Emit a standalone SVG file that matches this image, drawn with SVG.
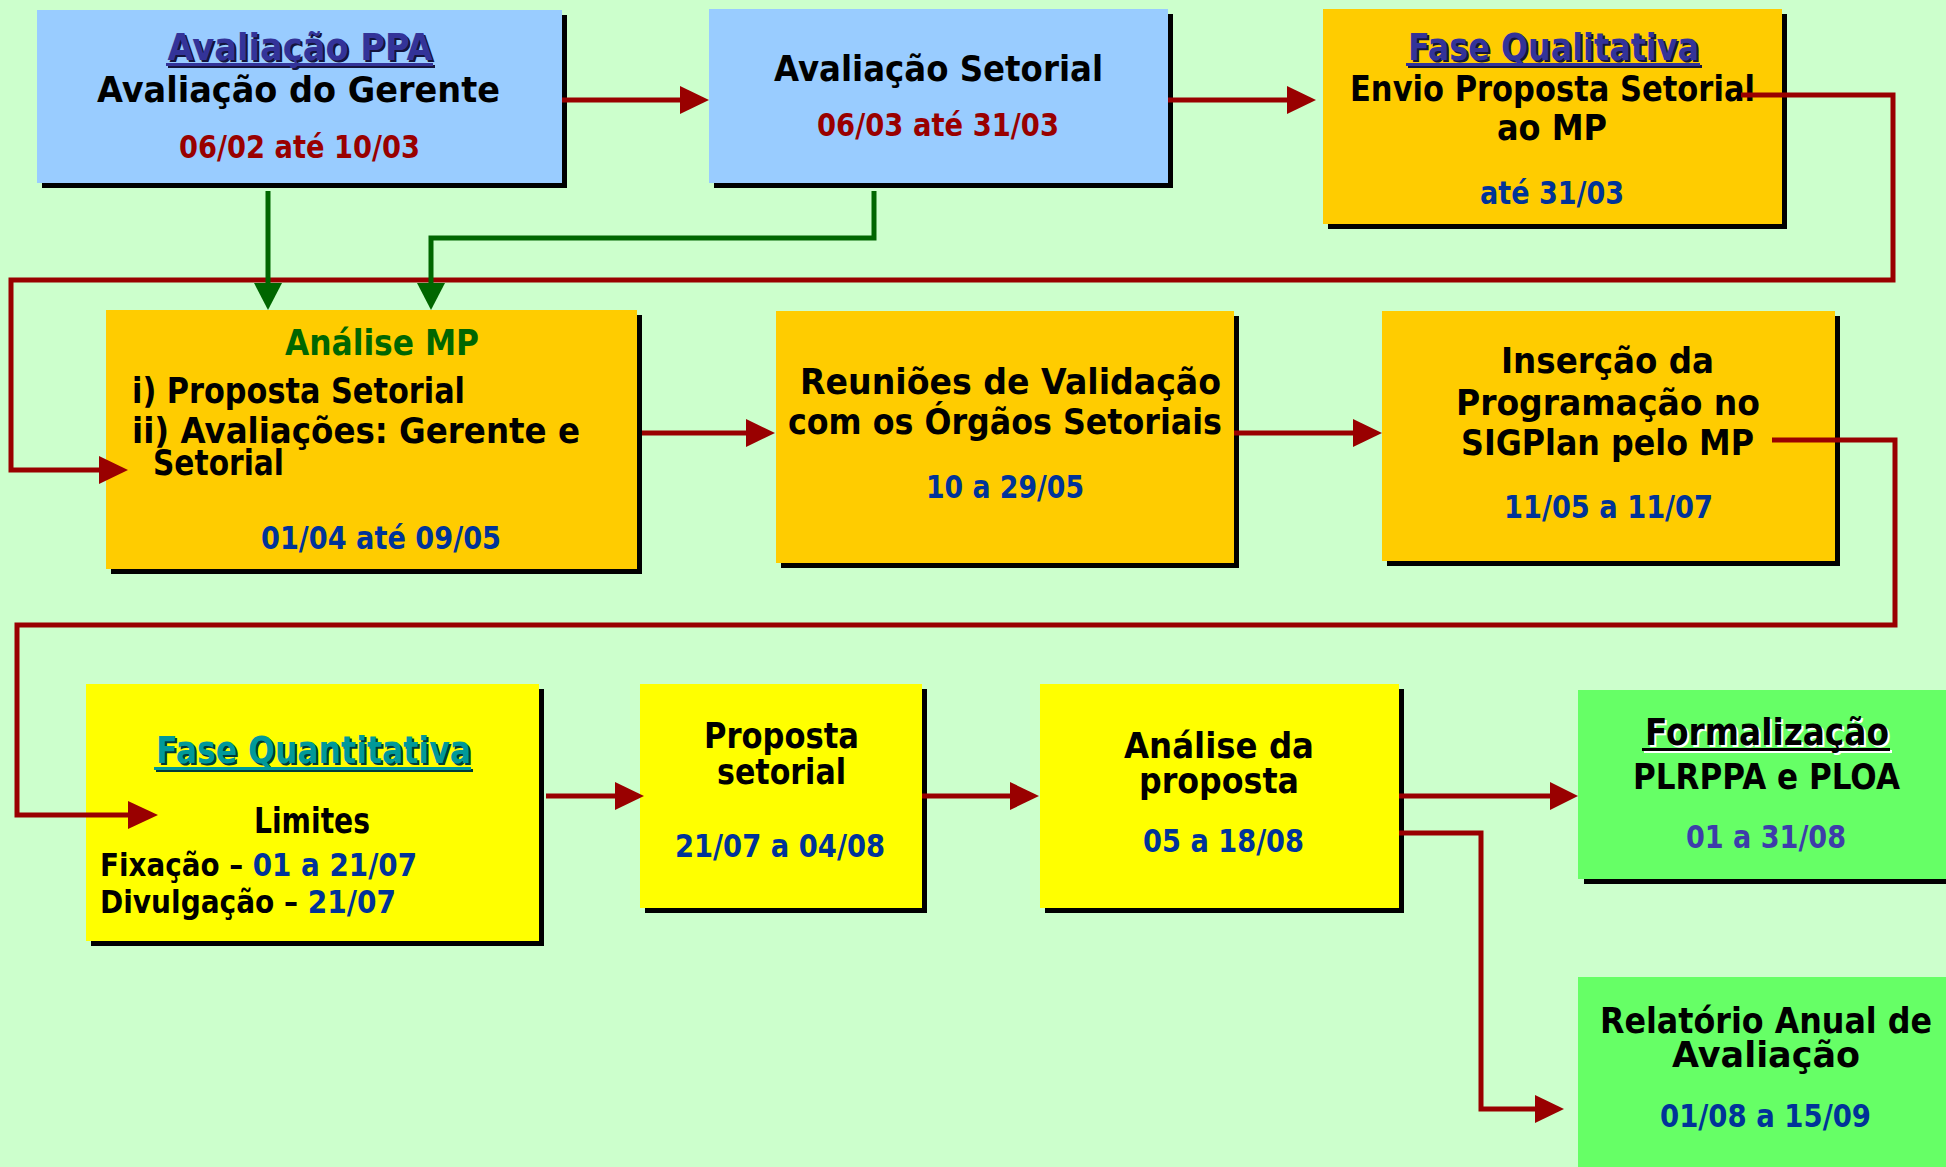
<svg xmlns="http://www.w3.org/2000/svg" width="1946" height="1167" viewBox="0 0 1946 1167">
<defs>
<style>
.t{font-family:"DejaVu Sans","Liberation Sans",sans-serif;font-weight:bold;text-anchor:middle}
.s{text-anchor:start}
.body{font-size:35.5px;fill:#000}
.hd{font-size:38px}
.dt{font-size:31.5px}
.red{fill:#990000}
.blue{fill:#003399}
.navy{fill:#333399}
.nsh{fill:#14143d}
.teal{fill:#009999}
.tsh{fill:#003a3a}
.grn{fill:#006600}
.shadow{fill:#000}
.blueBox{fill:#99CCFF}
.orBox{fill:#FFCC00}
.yeBox{fill:#FFFF00}
.gnBox{fill:#66FF66}
.lnR{fill:none;stroke:#990000;stroke-width:5}
.lnG{fill:none;stroke:#006600;stroke-width:5}
.hR{fill:#990000}
.hG{fill:#006600}
</style>
</defs>
<rect width="1946" height="1167" fill="#CCFFCC"/>

<g id="avaliacao-ppa">
<rect class="shadow" x="42" y="15" width="525" height="173"/>
<rect class="blueBox" x="37" y="10" width="525" height="173"/>
<text class="t hd nsh" x="302" y="62" textLength="265" lengthAdjust="spacingAndGlyphs">Avaliação PPA</text>
<rect class="nsh" x="168" y="65" width="267" height="3"/>
<text class="t hd navy" x="300" y="60" textLength="265" lengthAdjust="spacingAndGlyphs">Avaliação PPA</text>
<rect class="navy" x="166" y="63" width="267" height="3"/>
<text class="t body" x="298.5" y="102" textLength="403" lengthAdjust="spacingAndGlyphs">Avaliação do Gerente</text>
<text class="t dt red" x="299.5" y="158" textLength="241" lengthAdjust="spacingAndGlyphs">06/02 até 10/03</text>
</g>

<g id="avaliacao-setorial">
<rect class="shadow" x="714" y="14" width="459" height="174"/>
<rect class="blueBox" x="709" y="9" width="459" height="174"/>
<text class="t body" x="938.5" y="81" textLength="329" lengthAdjust="spacingAndGlyphs">Avaliação Setorial</text>
<text class="t dt red" x="938" y="136" textLength="242" lengthAdjust="spacingAndGlyphs">06/03 até 31/03</text>
</g>

<g id="fase-qualitativa">
<rect class="shadow" x="1328" y="14" width="459" height="215"/>
<rect class="orBox" x="1323" y="9" width="459" height="215"/>
<text class="t hd nsh" x="1555.5" y="62" textLength="291" lengthAdjust="spacingAndGlyphs">Fase Qualitativa</text>
<rect class="nsh" x="1408" y="65" width="294" height="3"/>
<text class="t hd navy" x="1553.5" y="60" textLength="291" lengthAdjust="spacingAndGlyphs">Fase Qualitativa</text>
<rect class="navy" x="1406" y="63" width="294" height="3"/>
<text class="t body" x="1552.5" y="101" textLength="405" lengthAdjust="spacingAndGlyphs">Envio Proposta Setorial</text>
<text class="t body" x="1552" y="140" textLength="110" lengthAdjust="spacingAndGlyphs">ao MP</text>
<text class="t dt blue" x="1552" y="204" textLength="144" lengthAdjust="spacingAndGlyphs">até 31/03</text>
</g>

<g id="analise-mp">
<rect class="shadow" x="111" y="315" width="531" height="259"/>
<rect class="orBox" x="106" y="310" width="531" height="259"/>
<text class="t grn" style="font-size:36px" x="382" y="355" textLength="194" lengthAdjust="spacingAndGlyphs">Análise MP</text>
<text class="t s body" x="132" y="403" textLength="333" lengthAdjust="spacingAndGlyphs">i) Proposta Setorial</text>
<text class="t s body" x="132" y="443" textLength="448" lengthAdjust="spacingAndGlyphs">ii) Avaliações: Gerente e</text>
<text class="t s body" x="153" y="475" textLength="131" lengthAdjust="spacingAndGlyphs">Setorial</text>
<text class="t dt blue" x="381" y="549" textLength="240" lengthAdjust="spacingAndGlyphs">01/04 até 09/05</text>
</g>

<g id="reunioes">
<rect class="shadow" x="781" y="316" width="458" height="252"/>
<rect class="orBox" x="776" y="311" width="458" height="252"/>
<text class="t body" x="1010.5" y="394" textLength="421" lengthAdjust="spacingAndGlyphs">Reuniões de Validação</text>
<text class="t body" x="1005" y="434" textLength="434" lengthAdjust="spacingAndGlyphs">com os Órgãos Setoriais</text>
<text class="t dt blue" x="1005" y="498" textLength="158" lengthAdjust="spacingAndGlyphs">10 a 29/05</text>
</g>

<g id="insercao">
<rect class="shadow" x="1387" y="316" width="453" height="250"/>
<rect class="orBox" x="1382" y="311" width="453" height="250"/>
<text class="t body" x="1607.5" y="373" textLength="213" lengthAdjust="spacingAndGlyphs">Inserção da</text>
<text class="t body" x="1608" y="415" textLength="304" lengthAdjust="spacingAndGlyphs">Programação no</text>
<text class="t body" x="1607.5" y="455" textLength="293" lengthAdjust="spacingAndGlyphs">SIGPlan pelo MP</text>
<text class="t dt blue" x="1608.5" y="518" textLength="209" lengthAdjust="spacingAndGlyphs">11/05 a 11/07</text>
</g>

<g id="fase-quantitativa">
<rect class="shadow" x="91" y="689" width="453" height="257"/>
<rect class="yeBox" x="86" y="684" width="453" height="257"/>
<text class="t hd tsh" x="315.5" y="765" textLength="315" lengthAdjust="spacingAndGlyphs">Fase Quantitativa</text>
<rect class="tsh" x="156" y="769" width="317" height="3"/>
<text class="t hd teal" x="313.5" y="763" textLength="315" lengthAdjust="spacingAndGlyphs">Fase Quantitativa</text>
<rect class="teal" x="154" y="767" width="317" height="3"/>
<text class="t body" x="312" y="833" textLength="116" lengthAdjust="spacingAndGlyphs">Limites</text>
<text class="t s dt" x="100" y="876" textLength="317" lengthAdjust="spacingAndGlyphs">Fixação – <tspan class="blue">01 a 21/07</tspan></text>
<text class="t s dt" x="100" y="913" textLength="296" lengthAdjust="spacingAndGlyphs">Divulgação – <tspan class="blue">21/07</tspan></text>
</g>

<g id="proposta-setorial">
<rect class="shadow" x="645" y="689" width="282" height="224"/>
<rect class="yeBox" x="640" y="684" width="282" height="224"/>
<text class="t body" x="781.5" y="748" textLength="155" lengthAdjust="spacingAndGlyphs">Proposta</text>
<text class="t body" x="781.5" y="784" textLength="129" lengthAdjust="spacingAndGlyphs">setorial</text>
<text class="t dt blue" x="780" y="857" textLength="210" lengthAdjust="spacingAndGlyphs">21/07 a 04/08</text>
</g>

<g id="analise-proposta">
<rect class="shadow" x="1045" y="689" width="359" height="224"/>
<rect class="yeBox" x="1040" y="684" width="359" height="224"/>
<text class="t body" x="1219" y="758" textLength="190" lengthAdjust="spacingAndGlyphs">Análise da</text>
<text class="t body" x="1219" y="793" textLength="160" lengthAdjust="spacingAndGlyphs">proposta</text>
<text class="t dt blue" x="1223.5" y="852" textLength="161" lengthAdjust="spacingAndGlyphs">05 a 18/08</text>
</g>

<g id="formalizacao">
<rect class="shadow" x="1584" y="695" width="362" height="189"/>
<rect class="gnBox" x="1578" y="690" width="368" height="189"/>
<text class="t hd" fill="#fff" x="1769" y="747" textLength="244" lengthAdjust="spacingAndGlyphs">Formalização</text>
<rect fill="#fff" x="1644" y="750" width="248" height="3"/>
<text class="t hd" fill="#000" x="1767" y="745" textLength="244" lengthAdjust="spacingAndGlyphs">Formalização</text>
<rect fill="#000" x="1642" y="748" width="248" height="3"/>
<text class="t body" x="1766.5" y="789" textLength="267" lengthAdjust="spacingAndGlyphs">PLRPPA e PLOA</text>
<text class="t dt" fill="#3D3DAA" x="1766" y="848" textLength="160" lengthAdjust="spacingAndGlyphs">01 a 31/08</text>
</g>

<g id="relatorio">
<rect class="gnBox" x="1578" y="977" width="368" height="190"/>
<text class="t body" x="1766" y="1033" textLength="332" lengthAdjust="spacingAndGlyphs">Relatório Anual de</text>
<text class="t body" x="1766" y="1067" textLength="188" lengthAdjust="spacingAndGlyphs">Avaliação</text>
<text class="t dt blue" x="1765.5" y="1127" textLength="211" lengthAdjust="spacingAndGlyphs">01/08 a 15/09</text>
</g>

<g id="connectors">
<path class="lnR" d="M562 100H681"/>
<polygon class="hR" points="680,86 709,100 680,114"/>
<path class="lnR" d="M1168 100H1288"/>
<polygon class="hR" points="1287,86 1316,100 1287,114"/>
<path class="lnR" d="M1741 95H1893V280H11V470H100"/>
<polygon class="hR" points="99,456 128,470 99,484"/>
<path class="lnG" d="M268 191V284"/>
<polygon class="hG" points="254,283 268,310 282,283"/>
<path class="lnG" d="M874 191V238H431V284"/>
<polygon class="hG" points="417,283 431,310 445,283"/>
<path class="lnR" d="M642 433H747"/>
<polygon class="hR" points="746,419 775,433 746,447"/>
<path class="lnR" d="M1234 433H1354"/>
<polygon class="hR" points="1353,419 1382,433 1353,447"/>
<path class="lnR" d="M1772 440H1895V625H17V815H129"/>
<polygon class="hR" points="128,801 158,815 128,829"/>
<path class="lnR" d="M546 796H616"/>
<polygon class="hR" points="615,782 644,796 615,810"/>
<path class="lnR" d="M922 796H1011"/>
<polygon class="hR" points="1010,782 1039,796 1010,810"/>
<path class="lnR" d="M1399 796H1551"/>
<polygon class="hR" points="1550,782 1578,796 1550,810"/>
<path class="lnR" d="M1399 833H1481V1109H1536"/>
<polygon class="hR" points="1535,1095 1564,1109 1535,1123"/>
</g>
</svg>
